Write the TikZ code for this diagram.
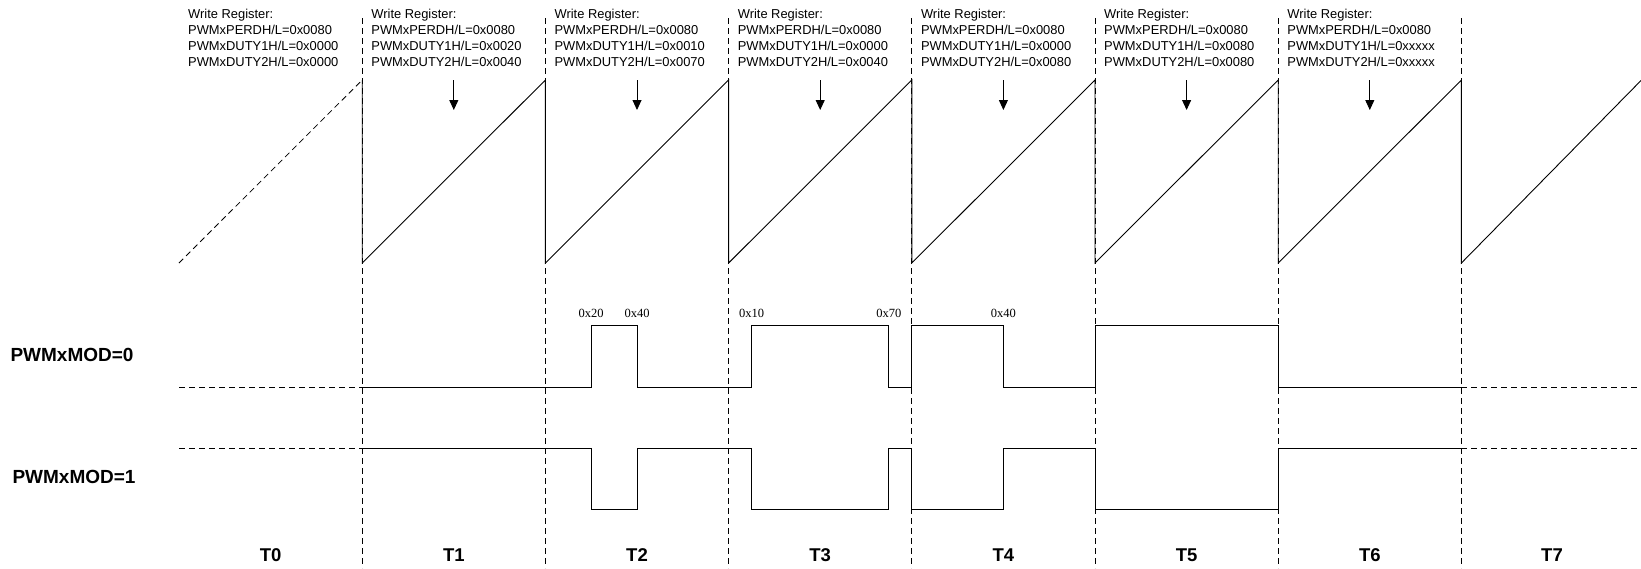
\documentclass[tikz,border=0pt]{standalone}
\usepackage{fontspec}
\setmainfont{Liberation Sans}
\newfontfamily\timesfont{Liberation Serif}
\usetikzlibrary{arrows.meta}

\begin{document}
\begin{tikzpicture}[x=1pt, y=-1pt,
    regtext/.style={anchor=north west, align=left, inner sep=0pt, font=\fontsize{12.9}{16}\selectfont},
    modlabel/.style={font=\fontsize{19}{20}\selectfont\bfseries},
    tlabel/.style={font=\fontsize{18.5}{20}\selectfont\bfseries},
    duty/.style={font=\timesfont\fontsize{12.5}{14}\selectfont},
    wave/.style={line width=0.9pt},
    guide/.style={line width=0.8pt, dash pattern=on 6pt off 4pt},
    >={Triangle[length=10pt, width=9pt]}]

        \useasboundingbox (0,0) rectangle (1641,568);

        % Register writes above each period
        \node[regtext] (wr0) at (188, 9) {Write Register:\\PWMxPERDH/L=0x0080\\PWMxDUTY1H/L=0x0000\\PWMxDUTY2H/L=0x0000};
        \node[regtext] (wr1) at (371.2, 9) {Write Register:\\PWMxPERDH/L=0x0080\\PWMxDUTY1H/L=0x0020\\PWMxDUTY2H/L=0x0040};
        \node[regtext] (wr2) at (554.4, 9) {Write Register:\\PWMxPERDH/L=0x0080\\PWMxDUTY1H/L=0x0010\\PWMxDUTY2H/L=0x0070};
        \node[regtext] (wr3) at (737.6, 9) {Write Register:\\PWMxPERDH/L=0x0080\\PWMxDUTY1H/L=0x0000\\PWMxDUTY2H/L=0x0040};
        \node[regtext] (wr4) at (920.8, 9) {Write Register:\\PWMxPERDH/L=0x0080\\PWMxDUTY1H/L=0x0000\\PWMxDUTY2H/L=0x0080};
        \node[regtext] (wr5) at (1104, 9) {Write Register:\\PWMxPERDH/L=0x0080\\PWMxDUTY1H/L=0x0080\\PWMxDUTY2H/L=0x0080};
        \node[regtext] (wr6) at (1287.2, 9) {Write Register:\\PWMxPERDH/L=0x0080\\PWMxDUTY1H/L=0xxxxx\\PWMxDUTY2H/L=0xxxxx};

        % Period boundaries
        \draw[guide] (362.2, 18) -- (362.2, 568);
        \draw[guide] (545.4, 18) -- (545.4, 568);
        \draw[guide] (728.6, 18) -- (728.6, 568);
        \draw[guide] (911.8, 18) -- (911.8, 568);
        \draw[guide] (1095, 18) -- (1095, 568);
        \draw[guide] (1278.2, 18) -- (1278.2, 568);
        \draw[guide] (1461.4, 18) -- (1461.4, 568);

        % Counter ramp
        \draw[guide] (179, 263) -- (362.2, 80);
        \draw[wave] (362.2, 80) -- (362.2, 263) -- (545.4, 80) -- (545.4, 263)
            -- (728.6, 80) -- (728.6, 263) -- (911.8, 80) -- (911.8, 263)
            -- (1095, 80) -- (1095, 263) -- (1278.2, 80) -- (1278.2, 263)
            -- (1461.4, 80) -- (1461.4, 263) -- (1641, 80.5);

        % Update points
        \coordinate (a1) at (453.8, 80);  \coordinate (b1) at (453.8, 110);
        \coordinate (a2) at (637, 80);    \coordinate (b2) at (637, 110);
        \coordinate (a3) at (820.2, 80);  \coordinate (b3) at (820.2, 110);
        \coordinate (a4) at (1003.4, 80); \coordinate (b4) at (1003.4, 110);
        \coordinate (a5) at (1186.6, 80); \coordinate (b5) at (1186.6, 110);
        \coordinate (a6) at (1369.8, 80); \coordinate (b6) at (1369.8, 110);
        \draw[->, line width=0.9pt] (a1) -- (b1);
        \draw[->, line width=0.9pt] (a2) -- (b2);
        \draw[->, line width=0.9pt] (a3) -- (b3);
        \draw[->, line width=0.9pt] (a4) -- (b4);
        \draw[->, line width=0.9pt] (a5) -- (b5);
        \draw[->, line width=0.9pt] (a6) -- (b6);

        % Output with PWMxMOD=0
        \node[modlabel] (mod0) at (72, 355) {PWMxMOD=0};
        \draw[guide] (179, 387) -- (362.2, 387);
        \draw[wave] (362.2, 387) -- (591.2, 387) -- (591.2, 325) -- (637, 325) -- (637, 387)
            -- (751.5, 387) -- (751.5, 325) -- (888.9, 325) -- (888.9, 387)
            -- (911.8, 387) -- (911.8, 325) -- (1003.4, 325) -- (1003.4, 387)
            -- (1095, 387) -- (1095, 325) -- (1278.2, 325) -- (1278.2, 387) -- (1461.4, 387);
        \draw[guide] (1461.4, 387) -- (1641, 387);

        % Duty values
        \node[duty] (d20) at (591.2, 313) {0x20};
        \node[duty] (d40) at (637, 313) {0x40};
        \node[duty] (d10) at (751.5, 313) {0x10};
        \node[duty] (d70) at (888.9, 313) {0x70};
        \node[duty] (d40b) at (1003.4, 313) {0x40};

        % Output with PWMxMOD=1
        \node[modlabel] (mod1) at (74, 477) {PWMxMOD=1};
        \draw[guide] (179, 448) -- (362.2, 448);
        \draw[wave] (362.2, 448) -- (591.2, 448) -- (591.2, 509) -- (637, 509) -- (637, 448)
            -- (751.5, 448) -- (751.5, 509) -- (888.9, 509) -- (888.9, 448)
            -- (911.8, 448) -- (911.8, 509) -- (1003.4, 509) -- (1003.4, 448)
            -- (1095, 448) -- (1095, 509) -- (1278.2, 509) -- (1278.2, 448) -- (1461.4, 448);
        \draw[guide] (1461.4, 448) -- (1641, 448);

        % Period names
        \node[tlabel] (t0) at (270.6, 555) {T0};
        \node[tlabel] (t1) at (453.8, 555) {T1};
        \node[tlabel] (t2) at (637, 555) {T2};
        \node[tlabel] (t3) at (820.2, 555) {T3};
        \node[tlabel] (t4) at (1003.4, 555) {T4};
        \node[tlabel] (t5) at (1186.6, 555) {T5};
        \node[tlabel] (t6) at (1369.8, 555) {T6};
        \node[tlabel] (t7) at (1552, 555) {T7};

    \end{tikzpicture}
\end{document}
